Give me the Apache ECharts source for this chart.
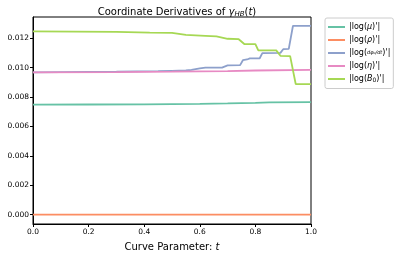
<!DOCTYPE html>
<html><head><meta charset="utf-8">
<script src="https://cdn.jsdelivr.net/npm/echarts@6/dist/echarts.min.js"></script>
<style>html,body{margin:0;padding:0;background:#fff}#c{width:395px;height:257px}</style>
</head><body><div id="c"></div>
<script>
const seriesNames = ["mu", "rho", "dphi", "eta", "B0"];
const colors = ["#66c2a5", "#fc8d62", "#8da0cb", "#e78ac3", "#a6d854"];
const yTicks = [0, 0.002, 0.004, 0.006, 0.008, 0.010, 0.012];
const xTicks = [0, 0.2, 0.4, 0.6, 0.8, 1.0];

const tMu = [0, 0.2, 0.4, 0.6, 0.7, 0.8, 0.85, 1.0];
const vMu = [0.00748, 0.00749, 0.0075, 0.00753, 0.00756, 0.00760, 0.00763, 0.00765];
const tRho = [0, 1];
const vRho = [0, 0];
const tDphi = [0, 0.3, 0.45, 0.5, 0.55, 0.57, 0.6, 0.62, 0.68, 0.70, 0.745, 0.755, 0.77, 0.78, 0.815, 0.825, 0.89, 0.90, 0.92, 0.935, 1.0];
const vDphi = [0.00968, 0.00972, 0.00976, 0.00978, 0.0098, 0.00985, 0.00995, 0.0100, 0.0100, 0.01015, 0.01017, 0.0105, 0.01055, 0.01062, 0.01062, 0.01098, 0.01100, 0.01125, 0.01127, 0.01283, 0.01284];
const tEta = [0, 0.3, 0.5, 0.7, 0.8, 1];
const vEta = [0.00967, 0.00969, 0.00972, 0.00976, 0.00980, 0.00985];
const tB0 = [0, 0.3, 0.42, 0.5, 0.55, 0.62, 0.66, 0.70, 0.74, 0.76, 0.80, 0.81, 0.875, 0.89, 0.925, 0.945, 1.0];
const vB0 = [0.01246, 0.01243, 0.01238, 0.01236, 0.01222, 0.01216, 0.01212, 0.01196, 0.01193, 0.0116, 0.0116, 0.01118, 0.01117, 0.0108, 0.01078, 0.00888, 0.00888];

const tArr = [tMu, tRho, tDphi, tEta, tB0];
const vArr = [vMu, vRho, vDphi, vEta, vB0];
const legendText = {
  mu: "|log({i|μ})'|",
  rho: "|log({i|ρ})'|",
  dphi: "|log({f|dφ₀/dt})'|",
  eta: "|log({i|η})'|",
  B0: "|log({i|B}{s|0})'|"
};
const FF = "DejaVu Sans";
const chart = echarts.init(document.getElementById('c'), null, {renderer: 'canvas'});
chart.setOption({
  animation: false,
  textStyle: {fontFamily: FF},
  title: {
    text: "Coordinate Derivatives of {i|γ}{s|HB}{n|(}{i|t}{n|)}",
    left: 172, top: 2, textAlign: 'center',
    textStyle: {fontFamily: FF, fontSize: 10, fontWeight: 'normal', color: '#000',
      rich: {
        i: {fontFamily: FF, fontSize: 10, fontStyle: 'italic', color: '#000'},
        s: {fontFamily: FF, fontSize: 7, fontStyle: 'italic', color: '#000', verticalAlign: 'bottom', padding: [4, 0, 0, 0]},
        n: {fontFamily: FF, fontSize: 10, color: '#000'}
      }}
  },
  grid: {left: 33, right: 84, top: 17, bottom: 31, show: true, borderColor: '#000', borderWidth: 1, containLabel: false},
  legend: {
    orient: 'vertical', left: 325, top: 18, itemWidth: 17, itemHeight: 8, itemGap: 5,
    padding: [5, 3, 5, 3],
    borderColor: '#ccc', borderWidth: 1, borderRadius: 2,
    data: seriesNames.map(n => ({name: n, icon: 'path://M0,4 L17,4 L17,6 L0,6 Z'})),
    formatter: n => legendText[n],
    textStyle: {fontFamily: FF, fontSize: 8, color: '#000', padding: [0, 0, 0, -1],
      rich: {
        i: {fontFamily: FF, fontSize: 8, fontStyle: 'italic', color: '#000'},
        s: {fontFamily: FF, fontSize: 6, color: '#000', padding: [3, 0, 0, 0]},
        f: {fontFamily: FF, fontSize: 5, fontStyle: 'italic', color: '#000', lineHeight: 16}
      }}
  },
  xAxis: {
    type: 'value', min: 0, max: 1, interval: 0.2,
    name: 'Curve Parameter: {i|t}', nameLocation: 'middle', nameGap: 18,
    nameTextStyle: {fontFamily: FF, fontSize: 10, color: '#000',
      rich: {i: {fontFamily: FF, fontSize: 10, fontStyle: 'italic', color: '#000'}}},
    axisLine: {show: true, onZero: false, lineStyle: {color: '#000', width: 1}},
    axisTick: {show: true, inside: false, length: 3, lineStyle: {color: '#000'}},
    axisLabel: {fontFamily: FF, fontSize: 7.5, color: '#000', margin: 4, formatter: v => v.toFixed(1)},
    splitLine: {show: false}
  },
  yAxis: {
    type: 'value', min: -0.00064, max: 0.01344,
    axisLine: {show: true, onZero: false, lineStyle: {color: '#000', width: 1}},
    axisTick: {show: true, length: 3, customValues: yTicks, lineStyle: {color: '#000'}},
    axisLabel: {fontFamily: FF, fontSize: 7.5, color: '#000', margin: 4, customValues: yTicks, formatter: v => v.toFixed(3)},
    splitLine: {show: false}
  },
  series: seriesNames.map((n, k) => ({
    name: n, type: 'line', showSymbol: false, symbol: 'none',
    lineStyle: {width: 1.8, color: colors[k]}, itemStyle: {color: colors[k]},
    data: tArr[k].map((t, j) => [t, vArr[k][j]])
  }))
});
</script></body></html>
